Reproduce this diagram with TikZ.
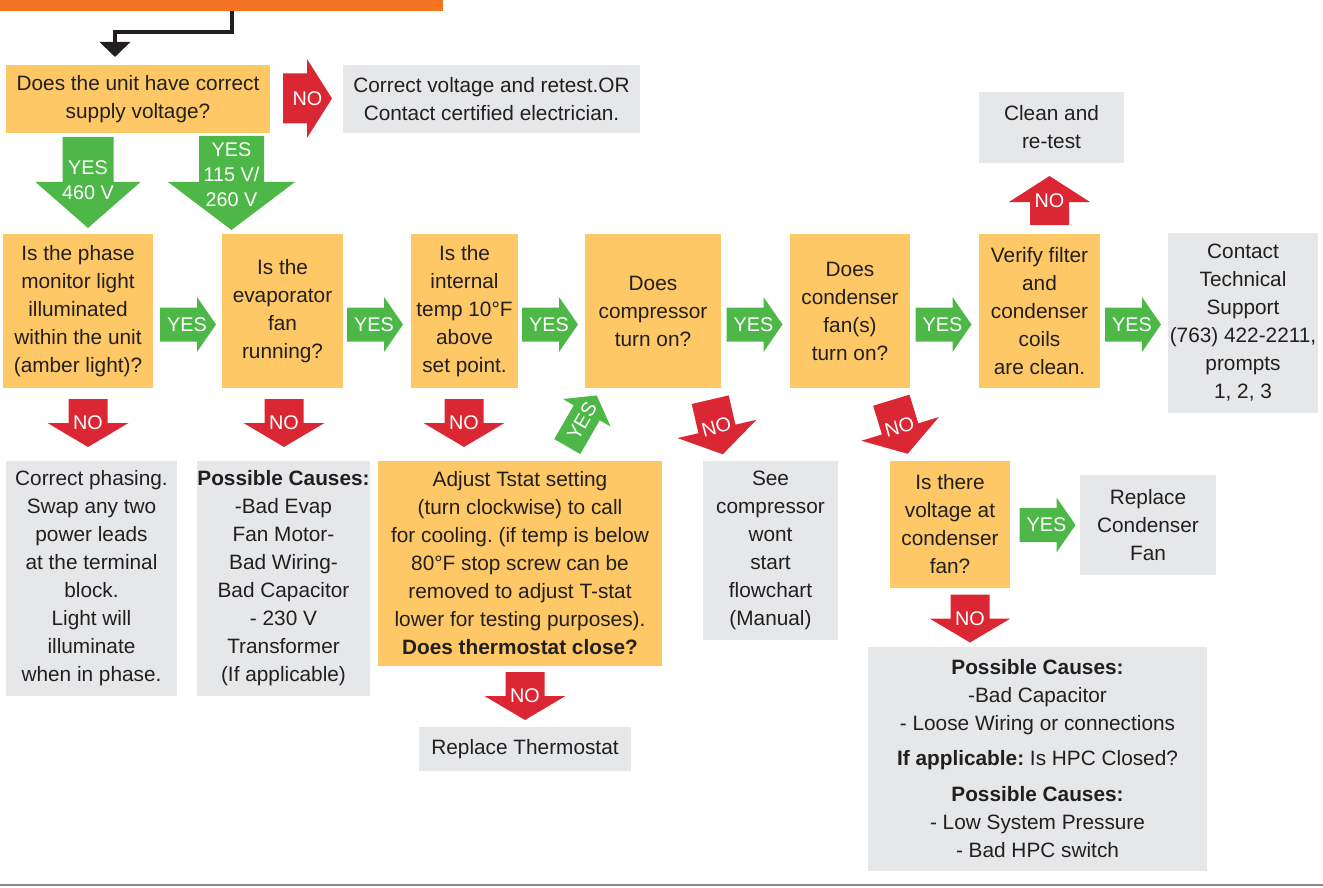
\documentclass[tikz,border=0pt]{standalone}
\usepackage{fontspec}
\setmainfont{Liberation Sans}
\usetikzlibrary{arrows.meta}
\frenchspacing
\definecolor{boxorange}{HTML}{FDC865}
\definecolor{grayb}{HTML}{E6E7E8}
\definecolor{redA}{HTML}{DA2733}
\definecolor{greenA}{HTML}{4DB748}
\definecolor{barorange}{HTML}{F47421}
\definecolor{textc}{HTML}{231F20}
\definecolor{lineg}{HTML}{8A8A8A}
\newcommand\fs{\fontsize{20.8}{28}\selectfont}
% block arrow: #1 colour, #2 centre, #3 rotation, #4 length, #5 shaft width, #6 head width, #7 head length, #8 label options, #9 label
\newcommand\barr[9]{%
  \begin{scope}[shift={#2},rotate=#3]
    \fill[#1] ({-#4/2},{-#5/2}) -- ({#4/2-#7},{-#5/2}) -- ({#4/2-#7},{-#6/2}) -- ({#4/2},0)
      -- ({#4/2-#7},{#6/2}) -- ({#4/2-#7},{#5/2}) -- ({-#4/2},{#5/2}) -- cycle;
  \end{scope}
  \node[lbl,#8] at #2 {#9};}
\begin{document}
\begin{tikzpicture}[x=1pt,y=-1pt,
  ob/.style={fill=boxorange, inner sep=0, align=center, font=\fs, text=textc},
  gb/.style={fill=grayb, inner sep=0, align=center, font=\fs, text=textc},
  lbl/.style={text=white, font=\fontsize{19.8}{25}\selectfont, align=center, inner sep=0}]
\useasboundingbox (0,0) rectangle (1323,888);

% top bar and entry arrow
\node[fill=barorange, inner sep=0, minimum width=443pt, minimum height=11pt] (bar) at (221.5,5.5) {};
\coordinate (c1) at (232,11);
\coordinate (c2) at (115,32);
\coordinate (c3) at (115,57);
\draw[textc, line width=4pt, line join=miter, -{Triangle[width=30pt,length=15pt]}] (c1) |- (c2) -- (c3);

% first question
\node[ob, minimum width=264pt, minimum height=68pt] (q1) at (138,99) {Does the unit have correct\\supply voltage?};
\node[gb, minimum width=297pt, minimum height=68pt] (nov) at (491.5,99) {Correct voltage and retest.OR\\Contact certified electrician.};

% main row
\node[ob, minimum width=150pt, minimum height=154pt] (A) at (78,311) {Is the phase\\monitor light\\illuminated\\within the unit\\(amber light)?};
\node[ob, minimum width=121pt, minimum height=154pt] (B) at (282.5,311) {Is the\\evaporator\\fan\\running?};
\node[ob, minimum width=107pt, minimum height=154pt] (C) at (464.5,311) {Is the\\internal\\temp 10°F\\above\\set point.};
\node[ob, minimum width=136pt, minimum height=154pt] (D) at (653,311) {Does\\compressor\\turn on?};
\node[ob, minimum width=120pt, minimum height=154pt] (E) at (850,311) {Does\\condenser\\fan(s)\\turn on?};
\node[ob, minimum width=121pt, minimum height=154pt] (F) at (1039.5,311) {Verify filter\\and\\condenser\\coils\\are clean.};
\node[gb, minimum width=150pt, minimum height=180pt] (G) at (1243,323) {Contact\\Technical\\Support\\(763) 422-2211,\\prompts\\1, 2, 3};
\node[gb, minimum width=145pt, minimum height=71pt] (clean) at (1051.5,127.5) {Clean and\\re-test};

% lower boxes
\node[gb, minimum width=171pt, minimum height=235pt] (phase) at (91.5,578.5) {Correct phasing.\\Swap any two\\power leads\\at the terminal\\block.\\Light will\\illuminate\\when in phase.};
\node[gb, minimum width=171pt, minimum height=235pt] (cause1) at (283.5,578.5) {\textbf{Possible Causes:}\\-Bad Evap\\Fan Motor-\\Bad Wiring-\\Bad Capacitor\\- 230 V\\Transformer\\(If applicable)};
\node[ob, minimum width=284pt, minimum height=205pt] (tstat) at (520,563.5) {Adjust Tstat setting\\(turn clockwise) to call\\for cooling. (if temp is below\\80°F stop screw can be\\removed to adjust T-stat\\lower for testing purposes).\\\textbf{Does thermostat close?}};
\node[gb, minimum width=212pt, minimum height=44pt] (repl) at (525,749) {Replace Thermostat};
\node[gb, minimum width=135pt, minimum height=179pt] (comp) at (770.5,550.5) {See\\compressor\\wont\\start\\flowchart\\(Manual)};
\node[ob, minimum width=120pt, minimum height=127pt] (volt) at (950,524.5) {Is there\\voltage at\\condenser\\fan?};
\node[gb, minimum width=136pt, minimum height=100pt] (fan) at (1148,525) {Replace\\Condenser\\Fan};
\node[gb, minimum width=339pt, minimum height=224pt] (cause2) at (1037.5,759) {\textbf{Possible Causes:}\\-Bad Capacitor\\- Loose Wiring or connections\\[7pt]\textbf{If applicable:} Is HPC Closed?\\[8pt]\textbf{Possible Causes:}\\- Low System Pressure\\- Bad HPC switch};

% block arrows
\barr{redA}{(307.5,98.5)}{0}{49}{50}{79}{25}{}{NO}
\barr{greenA}{(88,182.5)}{-90}{91}{51}{105}{46}{yshift=2pt}{YES\\460 V}
\barr{greenA}{(231.5,183)}{-90}{94}{65}{127}{48}{yshift=8pt}{YES\\115 V/\\260 V}
\barr{greenA}{(188,324.5)}{0}{56}{34}{55}{19}{xshift=-1pt}{YES}
\barr{greenA}{(375,324.5)}{0}{56}{34}{55}{19}{xshift=-1pt}{YES}
\barr{greenA}{(550,324.5)}{0}{56}{34}{55}{19}{xshift=-1pt}{YES}
\barr{greenA}{(754.5,324.5)}{0}{56}{34}{55}{19}{xshift=-1pt}{YES}
\barr{greenA}{(943.5,324.5)}{0}{56}{34}{55}{19}{xshift=-1pt}{YES}
\barr{greenA}{(1133,324.5)}{0}{56}{34}{55}{19}{xshift=-1pt}{YES}
\barr{greenA}{(1047.5,525)}{0}{56}{34}{55}{19}{xshift=-1pt}{YES}
\barr{redA}{(88,423)}{-90}{48}{39}{81}{24}{}{NO}
\barr{redA}{(284,423)}{-90}{48}{39}{81}{24}{}{NO}
\barr{redA}{(464,423)}{-90}{48}{39}{81}{24}{}{NO}
\barr{redA}{(525,696)}{-90}{48}{39}{81}{24}{}{NO}
\barr{redA}{(970,618.5)}{-90}{48}{39}{81}{24}{}{NO}
\barr{redA}{(1049.5,200.5)}{90}{49}{39}{81}{26}{}{NO}
\barr{greenA}{(582,421)}{60}{59}{30}{55}{20}{rotate=60}{YES}
\barr{redA}{(716.5,427)}{-77}{56}{38}{81}{26}{rotate=15}{NO}
\barr{redA}{(899.5,427)}{-73}{56}{38}{81}{26}{rotate=15}{NO}

% bottom rule
\coordinate (b1) at (0,885);
\coordinate (b2) at (1323,885);
\draw[lineg, line width=2pt] (b1) -- (b2);
\end{tikzpicture}
\end{document}
